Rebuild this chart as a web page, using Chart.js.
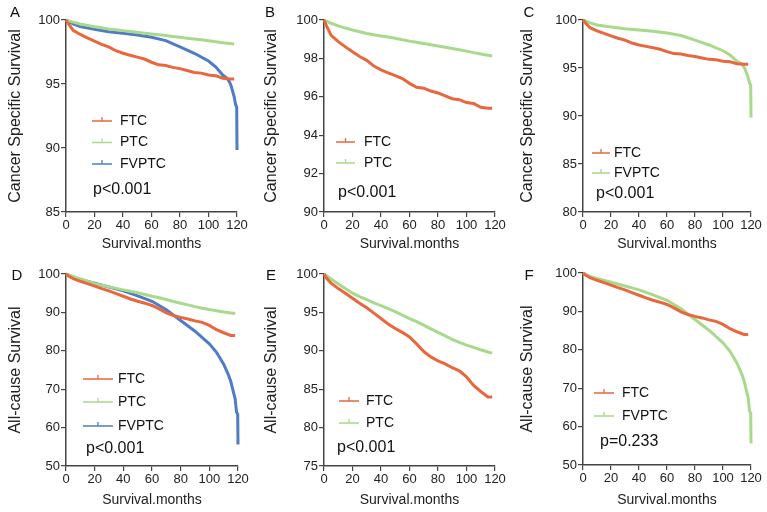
<!DOCTYPE html>
<html>
<head>
<meta charset="utf-8">
<script src="https://cdn.jsdelivr.net/npm/chart.js@4.4.0/dist/chart.umd.min.js"></script>
<style>
  body { margin: 0; background: #fff; }
  #wrap { position: relative; width: 767px; height: 512px; }
  .panel { position: absolute; width: 256px; height: 256px; }
</style>
</head>
<body>
<div id="wrap">
  <div class="panel" style="left:0;top:0"><canvas id="pA" width="256" height="256"></canvas></div>
  <div class="panel" style="left:256px;top:0"><canvas id="pB" width="256" height="256"></canvas></div>
  <div class="panel" style="left:512px;top:0"><canvas id="pC" width="256" height="256"></canvas></div>
  <div class="panel" style="left:0;top:256px"><canvas id="pD" width="256" height="256"></canvas></div>
  <div class="panel" style="left:256px;top:256px"><canvas id="pE" width="256" height="256"></canvas></div>
  <div class="panel" style="left:512px;top:256px"><canvas id="pF" width="256" height="256"></canvas></div>
</div>
<script>
// follow-up months for FTC / PTC curves
const months = [0, 2, 5, 10, 15, 20, 25, 30, 35, 40, 45, 50, 55, 60, 65, 70, 75, 80, 85, 90, 95, 100, 105, 110, 115, 118];
// cancer specific survival (%)
const cssFTC = [100, 99.65, 99.2, 98.87, 98.6, 98.35, 98.1, 97.9, 97.6, 97.4, 97.25, 97.1, 96.95, 96.7, 96.5, 96.45, 96.3, 96.2, 96.05, 95.9, 95.85, 95.7, 95.65, 95.45, 95.4, 95.4];
const cssPTC = [100, 99.93, 99.83, 99.69, 99.58, 99.48, 99.39, 99.3, 99.23, 99.17, 99.11, 99.05, 98.97, 98.9, 98.84, 98.78, 98.71, 98.65, 98.58, 98.52, 98.45, 98.38, 98.3, 98.23, 98.16, 98.12];
// all-cause survival (%)
const acsFTC = [100, 99.4, 98.8, 98.1, 97.5, 96.85, 96.2, 95.6, 94.9, 94.2, 93.5, 92.9, 92.4, 91.8, 90.9, 89.9, 89.2, 88.7, 88.3, 87.8, 87.4, 86.6, 85.5, 84.7, 84.0, 84.0];
const acsPTC = [100, 99.75, 99.35, 98.7, 98.1, 97.5, 97.05, 96.65, 96.25, 95.87, 95.5, 95.1, 94.65, 94.2, 93.8, 93.35, 92.85, 92.4, 91.95, 91.5, 91.1, 90.74, 90.45, 90.13, 89.85, 89.7];
// FVPTC has its own months (steep fall near the end)
const fvMonths = [0, 5, 10, 20, 30, 40, 50, 60, 70, 80, 90, 100, 105, 110, 113, 115, 116, 117, 118, 119, 119.8, 120];
const cssFV = [100, 99.7, 99.48, 99.27, 99.09, 98.96, 98.83, 98.65, 98.39, 97.9, 97.4, 96.8, 96.35, 95.7, 95.45, 95.1, 94.8, 94.4, 94.0, 93.4, 93.2, 89.85];
const acsFV = [100, 99.1, 98.6, 97.6, 96.6, 95.6, 94.3, 92.9, 90.7, 87.9, 85.1, 81.8, 79.6, 76.5, 74.0, 72.0, 70.5, 69.0, 67.5, 64.0, 63.5, 55.6];

const xTicks = [0, 20, 40, 60, 80, 100, 120];

const ORANGE = '#e8673c';
const GREEN = '#a8d98c';
const BLUE = '#4f7cc4';
const FONT = '"Liberation Sans", Arial, sans-serif';

const pts = (xs, ys) => xs.map((m, i) => ({ x: m, y: ys[i] }));

const ftc = (vals) => ({ label: 'FTC', data: pts(months, vals), borderColor: ORANGE });
const ptc = (vals) => ({ label: 'PTC', data: pts(months, vals), borderColor: GREEN });
const fv = (vals, color) => ({ label: 'FVPTC', data: pts(fvMonths, vals), borderColor: color });

const panels = [
  { id: 'pA', letter: 'A', lx: 15, ly: 13, yTitle: 'Cancer Specific Survival', yMin: 85, yStep: 5,
    sets: [ftc(cssFTC), ptc(cssPTC), fv(cssFV, BLUE)], area: { l: 66, r: 237, t: 20, b: 212 },
    leg: { x1: 92, x2: 112, tx: 120, rows: [121, 142.5, 164] }, p: { text: 'p<0.001', x: 93, y: 190 } },
  { id: 'pB', letter: 'B', lx: 14, ly: 13, yTitle: 'Cancer Specific Survival', yMin: 90, yStep: 2,
    sets: [ftc(cssFTC), ptc(cssPTC)], area: { l: 68, r: 239, t: 20, b: 212 },
    leg: { x1: 80, x2: 99, tx: 108, rows: [142, 163] }, p: { text: 'p<0.001', x: 82, y: 193 } },
  { id: 'pC', letter: 'C', lx: 17, ly: 13, yTitle: 'Cancer Specific Survival', yMin: 80, yStep: 5,
    sets: [ftc(cssFTC), fv(cssFV, GREEN)], area: { l: 71, r: 239, t: 20, b: 212 },
    leg: { x1: 80, x2: 98, tx: 102, rows: [153, 173] }, p: { text: 'p<0.001', x: 84, y: 194 } },
  { id: 'pD', letter: 'D', lx: 17, ly: 20, yTitle: 'All-cause Survival', yMin: 50, yStep: 10,
    sets: [ftc(acsFTC), ptc(acsPTC), fv(acsFV, BLUE)], area: { l: 66, r: 238, t: 18, b: 210 },
    leg: { x1: 83, x2: 113, tx: 118, rows: [123, 146, 170] }, p: { text: 'p<0.001', x: 86, y: 193 } },
  { id: 'pE', letter: 'E', lx: 15, ly: 20, yTitle: 'All-cause Survival', yMin: 75, yStep: 5,
    sets: [ftc(acsFTC), ptc(acsPTC)], area: { l: 68, r: 239, t: 18, b: 210 },
    leg: { x1: 83, x2: 103, tx: 110, rows: [145, 167] }, p: { text: 'p<0.001', x: 81, y: 192 } },
  { id: 'pF', letter: 'F', lx: 17, ly: 20, yTitle: 'All-cause Survival', yMin: 50, yStep: 10,
    sets: [ftc(acsFTC), fv(acsFV, GREEN)], area: { l: 71, r: 239, t: 17, b: 209 },
    leg: { x1: 82, x2: 102, tx: 110, rows: [137, 160] }, p: { text: 'p=0.233', x: 88, y: 186 } }
];

// panel letter, legend and p value
const kmNotes = {
  id: 'kmNotes',
  afterDraw(chart, args, o) {
    const ctx = chart.ctx;
    ctx.save();
    ctx.textBaseline = 'middle';
    ctx.fillStyle = '#111';
    ctx.textAlign = 'center';
    ctx.font = '15px ' + FONT;
    ctx.fillText(o.letter, o.lx, o.ly);
    ctx.textAlign = 'left';
    chart.data.datasets.forEach((ds, i) => {
      const y = o.leg.rows[i];
      const mid = (o.leg.x1 + o.leg.x2) / 2;
      ctx.strokeStyle = ds.borderColor;
      ctx.lineWidth = 1.3;
      ctx.beginPath();
      ctx.moveTo(o.leg.x1, y);
      ctx.lineTo(o.leg.x2, y);
      ctx.moveTo(mid, y - 4);
      ctx.lineTo(mid, y);
      ctx.stroke();
      ctx.font = '14px ' + FONT;
      ctx.fillText(ds.label, o.leg.tx, y);
    });
    ctx.font = '16px ' + FONT;
    ctx.fillText(o.p.text, o.p.x, o.p.y);
    ctx.restore();
  }
};

panels.forEach(p => {
  const a = p.area;
  new Chart(document.getElementById(p.id), {
    type: 'line',
    data: {
      datasets: p.sets.map(s => Object.assign({
        borderWidth: 3, pointRadius: 0, tension: 0, fill: false, clip: 4
      }, s))
    },
    options: {
      responsive: false,
      animation: false,
      layout: { padding: { left: 0, top: a.t, right: 256 - a.r, bottom: 0 } },
      plugins: {
        legend: { display: false },
        tooltip: { enabled: false },
        kmNotes: { letter: p.letter, lx: p.lx, ly: p.ly, leg: p.leg, p: p.p }
      },
      scales: {
        x: {
          type: 'linear', min: 0, max: 120,
          afterBuildTicks: s => { s.ticks = xTicks.map(v => ({ value: v })); },
          afterFit: s => { s.height = 256 - a.b; },
          ticks: { color: '#222', font: { family: FONT, size: 13 }, padding: 1, maxRotation: 0 },
          grid: { drawOnChartArea: false, tickLength: 5, color: '#444', lineWidth: 1.2 },
          border: { color: '#444', width: 1.5 },
          title: { display: true, text: 'Survival.months', color: '#222',
                   font: { family: FONT, size: 14 }, padding: { top: 0, bottom: 3 } }
        },
        y: {
          min: p.yMin, max: 100,
          ticks: { stepSize: p.yStep, color: '#222', font: { family: FONT, size: 13 }, padding: 1 },
          afterFit: s => { s.width = a.l; },
          grid: { drawOnChartArea: false, tickLength: 5, color: '#444', lineWidth: 1.2 },
          border: { color: '#444', width: 1.5 },
          title: { display: true, text: p.yTitle, color: '#222',
                   font: { family: FONT, size: 16 }, padding: { top: 6, bottom: 0 } }
        }
      }
    },
    plugins: [kmNotes]
  });
});
</script>
</body>
</html>
